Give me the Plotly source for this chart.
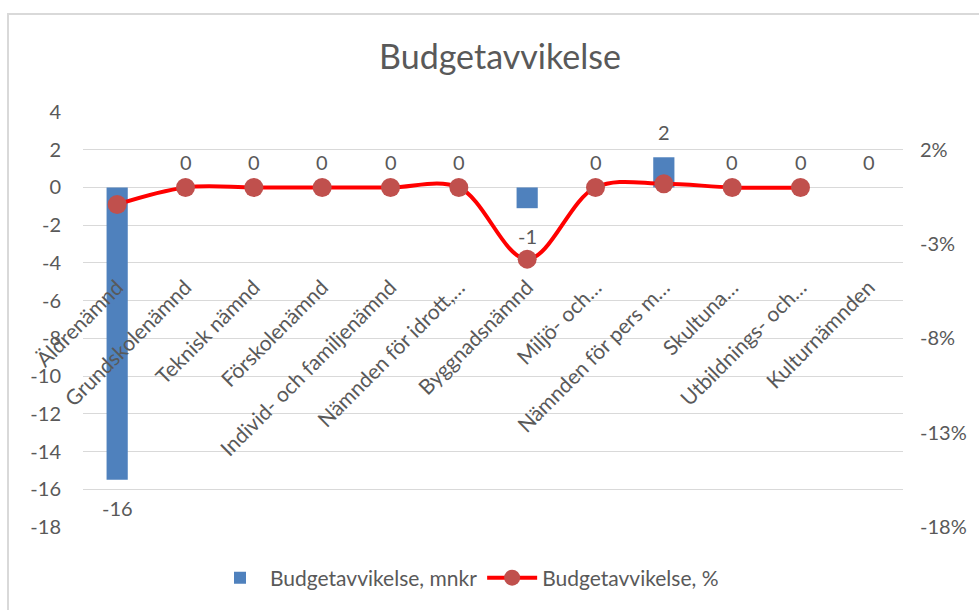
import plotly.graph_objects as go

categories = ["Äldrenämnd", "Grundskolenämnd", "Teknisk nämnd", "Förskolenämnd",
              "Individ- och familjenämnd", "Nämnden för idrott,…", "Byggnadsnämnd",
              "Miljö- och…", "Nämnden för pers m…", "Skultuna…", "Utbildnings- och…",
              "Kulturnämnden"]
mnkr = [-15.5, 0, 0, 0, 0, 0, -1.1, 0, 1.6, 0, 0, 0]
pct = [-0.009, 0, 0, 0, 0, 0, -0.038, 0, 0.002, 0, 0, None]
left_ticks = list(range(-18, 5, 2))
left_ticktext = [str(v) for v in left_ticks]
right_ticks = [-0.18, -0.13, -0.08, -0.03, 0.02]
right_ticktext = [f"{round(v * 100):d}%" for v in right_ticks]

FONT = "Lato"
GRAY = "#595959"
GRID = "#D9D9D9"

W, H = 979, 610
L, R, T, B = 83, 76, 112, 83
pw, ph = W - L - R, H - T - B

fig = go.Figure()
fig.add_trace(go.Bar(
    x=categories, y=mnkr, name="Budgetavvikelse, mnkr",
    marker=dict(color="#4F81BD", line=dict(width=0)),
    yaxis="y", xaxis="x",
))
fig.add_trace(go.Scatter(
    x=categories, y=pct, name="Budgetavvikelse, %",
    mode="lines+markers", yaxis="y2", xaxis="x",
    line=dict(color="#FF0000", width=4, shape="spline", smoothing=1),
    marker=dict(color="#C0504D", size=19),
    connectgaps=False,
))

annotations = []
for c, v in zip(categories, mnkr):
    annotations.append(dict(
        x=c, y=v, xref="x", yref="y", text=f"{round(v):d}", showarrow=False,
        yshift=(-28 if v < 0 else 25), yanchor="middle",
        font=dict(family=FONT, size=20, color=GRAY),
    ))

fig.update_layout(
    width=W, height=H,
    margin=dict(l=L, r=R, t=T, b=B),
    paper_bgcolor="white", plot_bgcolor="white",
    font=dict(family=FONT, size=20, color=GRAY),
    title=dict(text="Budgetavvikelse", x=500 / W, xref="container", xanchor="center",
               y=1 - 57 / H, yref="container", yanchor="middle",
               font=dict(family=FONT, size=34, color=GRAY)),
    bargap=0.69,
    showlegend=True,
    legend=dict(orientation="h", x=(467 - L) / pw, xanchor="center", y=-0.123, yanchor="middle",
                font=dict(family=FONT, size=21, color=GRAY), itemwidth=50,
                bgcolor="rgba(0,0,0,0)"),
    xaxis=dict(type="category", anchor="free", position=0.619, showline=False,
               showgrid=False, zeroline=False, ticks="", tickangle=-45,
               tickfont=dict(family=FONT, size=21, color=GRAY),
               range=[-0.5, len(categories) - 0.5]),
    yaxis=dict(range=[-18, 4], tickvals=left_ticks, ticktext=left_ticktext,
               showgrid=True, gridcolor=GRID,
               gridwidth=1, zeroline=True, zerolinecolor=GRID, zerolinewidth=1,
               showline=False, ticks="", ticklabelstandoff=21,
               tickfont=dict(family=FONT, size=20, color=GRAY)),
    yaxis2=dict(range=[-0.18, 0.04], tickvals=right_ticks, ticktext=right_ticktext,
                overlaying="y", side="right", showgrid=False, zeroline=False,
                showline=False, ticks="", ticklabelstandoff=16,
                tickfont=dict(family=FONT, size=20, color=GRAY)),
    annotations=annotations,
    shapes=[dict(type="rect", xref="paper", yref="paper",
                 x0=(8 - L) / pw, x1=(W + 20 - L) / pw,
                 y0=-(H + 20 - (T + ph)) / ph, y1=(T + ph - 14) / ph,
                 line=dict(color=GRID, width=2), fillcolor="rgba(0,0,0,0)", layer="below")],
)

fig.write_html("out.html", config={"displayModeBar": False},
               post_script="document.body.style.margin='0';")
